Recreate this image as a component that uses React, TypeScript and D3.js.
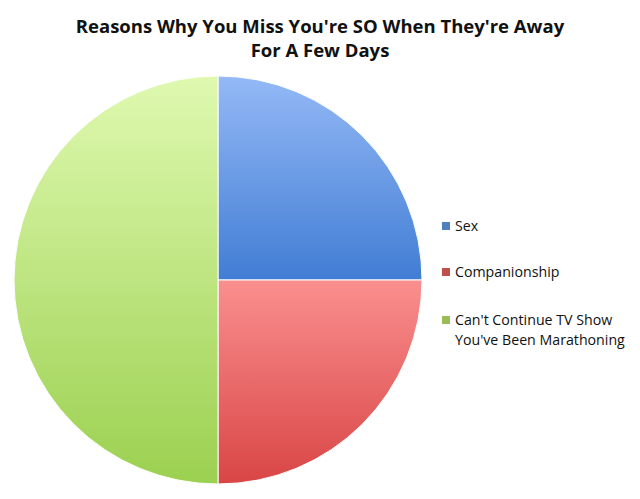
import React, { useEffect, useRef } from 'react';
import * as d3 from 'd3';

const categories = ['Sex', 'Companionship', "Can't Continue TV Show You've Been Marathoning"];
const legendLines = [['Sex'], ['Companionship'], ["Can't Continue TV Show", "You've Been Marathoning"]];
const values = [25, 25, 50];
const topColors = ['#94b9f6', '#fa8f8f', '#dff9b0'];
const bottomColors = ['#417dd4', '#d94545', '#9bd050'];
const legendColors = ['#4f81bd', '#c0504d', '#9bbb59'];

const App: React.FC = () => {
  const ref = useRef<SVGSVGElement>(null);

  useEffect(() => {
    const svg = d3.select(ref.current);
    svg.selectAll('*').remove();

    const width = 640;
    const height = 499;
    const cx = 218;
    const cy = 280;
    const radius = 204;

    svg.append('rect').attr('width', width).attr('height', height).attr('fill', '#fff');

    // gradients, one per slice
    const defs = svg.append('defs');
    categories.forEach((c, i) => {
      const grad = defs.append('linearGradient')
        .attr('id', `grad${i}`)
        .attr('x1', 0).attr('y1', 0).attr('x2', 0).attr('y2', 1);
      grad.append('stop').attr('offset', '0%').attr('stop-color', topColors[i]);
      grad.append('stop').attr('offset', '100%').attr('stop-color', bottomColors[i]);
    });

    // title
    const title = svg.append('text')
      .attr('text-anchor', 'middle')
      .attr('font-family', 'Open Sans, sans-serif')
      .attr('font-weight', 'bold')
      .attr('font-size', 18.5)
      .attr('fill', '#111');
    title.append('tspan').attr('x', 320).attr('y', 33)
      .text("Reasons Why You Miss You're SO When They're Away");
    title.append('tspan').attr('x', 320).attr('y', 57).text('For A Few Days');

    const pie = d3.pie<number>().sort(null).value((d) => d);
    const arc = d3.arc<d3.PieArcDatum<number>>().innerRadius(0).outerRadius(radius);

    const g = svg.append('g').attr('transform', `translate(${cx},${cy})`);
    g.selectAll('path')
      .data(pie(values))
      .enter().append('path')
      .attr('d', arc)
      .attr('fill', (d, i) => `url(#grad${i})`)
      .attr('stroke', '#fff')
      .attr('stroke-width', 1);

    // legend
    const legend = svg.append('g')
      .attr('font-family', 'Open Sans, sans-serif')
      .attr('font-size', 14.2)
      .attr('fill', '#111');
    const ys = [226, 272, 320];
    legendLines.forEach((lines, i) => {
      legend.append('rect')
        .attr('x', 442).attr('y', ys[i] - 4)
        .attr('width', 8).attr('height', 8)
        .attr('fill', legendColors[i]);
      lines.forEach((line, j) => {
        legend.append('text')
          .attr('x', 455)
          .attr('y', ys[i] + 5 + j * 20)
          .text(line);
      });
    });
  }, []);

  return <svg ref={ref} width={640} height={499} style={{ display: 'block', margin: -8 }} />;
};

export default App;
